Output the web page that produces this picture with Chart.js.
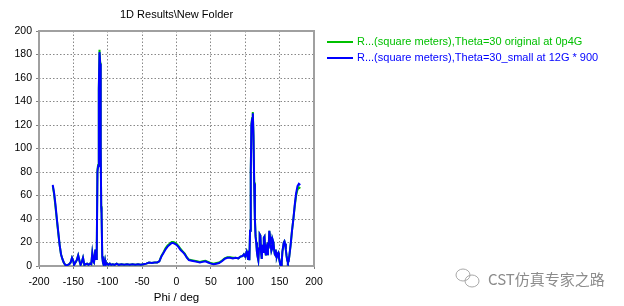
<!DOCTYPE html>
<html>
<head>
<meta charset="utf-8">
<script src="https://cdn.jsdelivr.net/npm/chart.js@4"></script>
<style>
  html, body { margin: 0; padding: 0; background: #fff; }
  #wrap { width: 624px; height: 306px; position: relative; }
</style>
</head>
<body>
<div id="wrap"><canvas id="rcsChart" width="624" height="306"></canvas></div>
<script>
const chartTitle = '1D Results\\New Folder';
const axisTitle = 'Phi / deg';
const seriesNames = [
  'R...(square meters),Theta=30 original at 0p4G',
  'R...(square meters),Theta=30_small at 12G * 900'
];
const xTicks = [-200, -150, -100, -50, 0, 50, 100, 150, 200];
const yTicks = [0, 20, 40, 60, 80, 100, 120, 140, 160, 180, 200];

const phi = [
  -180, -178, -176, -174, -172, -170, -168, -166, -164, -162, -160, -158, -156, -154, -152, -150,
  -149, -147, -145, -143, -141, -139.5, -138, -136, -134, -132, -130, -128, -126, -124, -122.5, -121,
  -120, -118, -117, -116, -115, -114, -113, -112, -111, -110.5, -110, -109.5, -109, -108, -107, -106,
  -105, -104, -103, -101, -99, -97, -95, -93, -90, -87, -84, -80, -76, -72, -68, -64,
  -60, -56, -52, -48, -44, -40, -36, -32, -28, -25, -22, -19, -16, -13, -10, -7,
  -5, -3, 0, 3, 6, 9, 12, 15, 18, 22, 26, 30, 34, 38, 42, 46,
  50, 54, 58, 62, 66, 70, 74, 78, 82, 86, 90, 93, 96, 98, 100, 102,
  103, 104, 105, 106, 107, 108, 109, 110, 111, 112, 113, 114, 115, 116, 117, 118,
  119, 120, 121, 122, 123, 124, 125, 126, 127, 128, 129, 130, 131, 132, 133, 134,
  135, 136, 137, 138, 139, 140, 141, 142, 143, 144, 145, 146, 147, 148, 149, 150,
  151, 152, 153, 154, 156, 157, 158, 159, 160, 161, 162, 163, 164, 166, 168, 170,
  172, 174, 176, 178, 180
];

const original = [
  68, 61, 50, 39, 28, 18, 10, 6, 3, 1, 0.5, 1, 1.5, 3, 7, 4,
  1, 3, 5, 9, 4, 1, 3, 7, 1, 1.5, 2, 1, 2, 1.5, 11, 4,
  3, 14, 6, 12, 82, 86, 152, 184, 173, 131, 101, 51, 45, 8, 3, 1,
  2, 5, 1, 2, 1, 2, 1, 1.5, 1, 2, 1, 1.5, 1, 1.5, 1, 1.5,
  1, 1.5, 1, 1.5, 2, 3, 2.5, 3, 3, 4, 8.5, 11.5, 15, 17.5, 19, 20.5,
  20.5, 20, 19, 17, 14.5, 12.5, 10.5, 7.5, 5.5, 5, 4.5, 4, 3.5, 4, 4.5, 3.5,
  2.5, 2, 2.5, 3, 4.5, 6.5, 7.5, 7.5, 7, 7, 6.5, 8, 8.5, 10, 8, 12,
  9, 6, 13, 5, 30, 80, 121, 126, 131, 111, 71, 41, 26, 20, 12, 8,
  5, 15, 27, 26, 12, 6, 18, 12, 24, 25, 14, 9, 14, 10, 20, 15,
  30, 25, 18, 13, 15, 22, 20, 14, 10, 9, 11, 8, 10, 11, 7, 4,
  1, 0.5, 3, 12, 20, 21, 19, 14, 9, 5, 3, 4, 8, 18, 30, 40,
  51, 60, 65, 67, 66
];

const scaled = [
  69, 62, 52, 40, 29, 18, 10, 6, 3, 1, 0.5, 1, 1.5, 3, 7, 4,
  1, 3, 5, 9, 4, 1, 3, 7, 1, 1.5, 2, 1, 2, 1.5, 11, 4,
  3, 14, 6, 12, 80, 85, 150, 182, 172, 130, 100, 50, 45, 8, 3, 1,
  2, 5, 1, 2, 1, 2, 1, 1.5, 1, 2, 1, 1.5, 1, 1.5, 1, 1.5,
  1, 1.5, 1, 1.5, 2, 3, 2.5, 3, 3, 4, 8, 11, 14, 16.5, 18, 19.5,
  19.5, 19, 18, 16, 13.5, 12, 10, 7, 5, 4.5, 4, 3.5, 3, 3.5, 4, 3,
  2, 1.5, 2, 2.5, 4, 6, 7, 7, 6.5, 7, 6.5, 8, 8.5, 10, 8, 12,
  9, 6, 13, 5, 30, 80, 120, 125, 130, 110, 70, 40, 25, 20, 12, 8,
  5, 15, 27, 26, 12, 6, 18, 12, 24, 25, 14, 9, 14, 10, 20, 15,
  30, 25, 18, 13, 15, 22, 20, 14, 10, 9, 11, 8, 10, 11, 7, 4,
  1, 0.5, 3, 12, 20, 21, 19, 14, 9, 5, 3, 4, 8, 18, 30, 40,
  52, 62, 68, 70, 69
];

const colors = ['#00c000', '#0000ff'];

function toPoints(values) {
  return phi.map((p, i) => ({ x: p, y: values[i] }));
}

// plot frame, title, legend and watermark
const decorations = {
  id: 'decorations',
  beforeDatasetsDraw(chart) {
    const { ctx, chartArea: a } = chart;
    ctx.save();
    ctx.strokeStyle = '#a0a0a0';
    ctx.lineWidth = 2;
    ctx.strokeRect(a.left, a.top, a.right - a.left, a.bottom - a.top);
    ctx.restore();
  },
  afterDraw(chart) {
    const { ctx, chartArea: a } = chart;
    ctx.save();
    ctx.font = '11px "Liberation Sans", Arial, sans-serif';
    ctx.fillStyle = '#000';
    ctx.textAlign = 'center';
    ctx.textBaseline = 'middle';
    ctx.fillText(chartTitle, (a.left + a.right) / 2, 15);

    ctx.font = '11px "Liberation Sans", Arial, sans-serif';
    ctx.textAlign = 'left';
    seriesNames.forEach((name, i) => {
      const y = 42 + i * 16;
      ctx.strokeStyle = colors[i];
      ctx.lineWidth = 2;
      ctx.beginPath();
      ctx.moveTo(327, y);
      ctx.lineTo(353, y);
      ctx.stroke();
      ctx.fillStyle = colors[i];
      ctx.fillText(name, 357, y);
    });

    // watermark
    ctx.strokeStyle = '#a8a8a8';
    ctx.lineWidth = 1;
    ctx.beginPath();
    ctx.ellipse(463, 275, 7, 6, 0, 0, Math.PI * 2);
    ctx.stroke();
    ctx.beginPath();
    ctx.ellipse(472, 281, 7, 6, 0, 0, Math.PI * 2);
    ctx.stroke();
    ctx.fillStyle = '#8c8c8c';
    ctx.font = '15px "Noto Sans CJK SC", sans-serif';
    ctx.fillText('CST仿真专家之路', 488, 279);
    ctx.restore();
  }
};

function makeChart() {
  const ctx = document.getElementById('rcsChart').getContext('2d');

  new Chart(ctx, {
    type: 'line',
    data: {
      datasets: [
        {
          label: seriesNames[0],
          data: toPoints(original),
          borderColor: colors[0],
          borderWidth: 2,
          pointRadius: 0,
          tension: 0,
          order: 2
        },
        {
          label: seriesNames[1],
          data: toPoints(scaled),
          borderColor: colors[1],
          borderWidth: 2,
          pointRadius: 0,
          tension: 0,
          order: 1
        }
      ]
    },
    options: {
      responsive: false,
      animation: false,
      layout: {
        padding: { top: 31, right: 310, left: 0, bottom: 0 }
      },
      plugins: {
        legend: { display: false },
        title: { display: false },
        tooltip: { enabled: false }
      },
      scales: {
        x: {
          type: 'linear',
          min: -200,
          max: 200,
          afterFit: s => { s.height = 40; },
          afterBuildTicks: s => { s.ticks = xTicks.map(v => ({ value: v })); },
          ticks: {
            color: '#000',
            padding: 7,
            font: { family: '"Liberation Sans", Arial, sans-serif', size: 10.5 },
            maxRotation: 0
          },
          grid: { color: '#888', tickColor: '#808080', tickLength: 3, lineWidth: 1 },
          border: { display: false, dash: [1.5, 2] },
          title: {
            display: true,
            text: axisTitle,
            color: '#000',
            font: { family: '"Liberation Sans", Arial, sans-serif', size: 11.5 },
            padding: { top: 0, bottom: 1 }
          }
        },
        y: {
          min: 0,
          max: 200,
          afterFit: s => { s.width = 39; },
          afterBuildTicks: s => { s.ticks = yTicks.map(v => ({ value: v })); },
          ticks: {
            color: '#000',
            padding: 4,
            font: { family: '"Liberation Sans", Arial, sans-serif', size: 10.5 }
          },
          grid: { color: '#888', tickColor: '#808080', tickLength: 3, lineWidth: 1 },
          border: { display: false, dash: [1.5, 2] }
        }
      }
    },
    plugins: [decorations]
  });
}

document.addEventListener('DOMContentLoaded', makeChart);
</script>
</body>
</html>
